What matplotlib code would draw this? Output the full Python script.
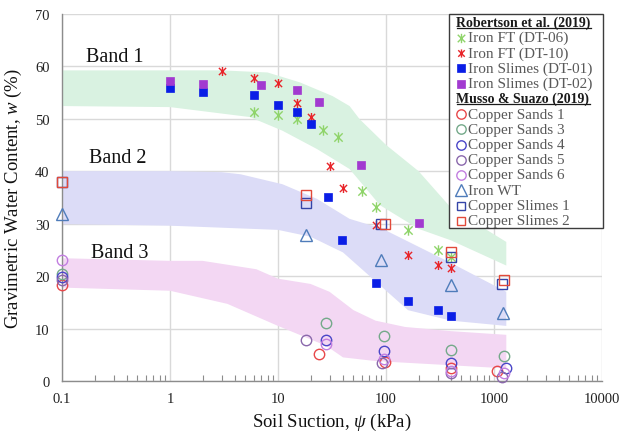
import matplotlib
matplotlib.use("Agg")
import matplotlib.pyplot as plt
from matplotlib.path import Path
from matplotlib.lines import Line2D
from matplotlib.patches import Rectangle
from matplotlib.ticker import LogLocator, FixedLocator, FixedFormatter, NullFormatter

plt.rcParams['font.family'] = ['Liberation Serif', 'DejaVu Serif']
plt.rcParams['mathtext.fontset'] = 'custom'
plt.rcParams['mathtext.rm'] = 'Liberation Serif'
plt.rcParams['mathtext.it'] = 'Liberation Serif:italic'

# ---------------- data ----------------
ft06_x = [6, 10, 15, 26, 36, 60, 80, 160, 300, 400]
ft06_y = [51.2, 50.7, 49.9, 47.9, 46.5, 36.3, 33.2, 28.8, 25.0, 23.7]

ft10_x = [3, 6, 10, 15, 20, 30, 40, 80, 160, 300, 400]
ft10_y = [59.0, 57.8, 56.8, 52.9, 50.4, 41.0, 36.8, 29.8, 24.1, 22.1, 21.5]

sl01_x = [1, 2, 6, 10, 15, 20, 29, 39, 80, 160, 300, 400]
sl01_y = [55.8, 55.0, 54.6, 52.6, 51.3, 49.0, 35.0, 26.9, 18.6, 15.2, 13.5, 12.4]

sl02_x = [1, 2, 7, 15, 24, 59, 200]
sl02_y = [57.1, 56.6, 56.4, 55.5, 53.1, 41.1, 30.1]

cs1_x = [0.1, 24, 98, 400, 1060]
cs1_y = [18.3, 5.1, 3.7, 2.5, 2.0]
cs3_x = [0.1, 28, 96, 400, 1230]
cs3_y = [20.4, 11.0, 8.5, 5.9, 4.8]
cs4_x = [0.1, 28, 96, 400, 1300]
cs4_y = [19.9, 7.9, 5.8, 3.5, 2.4]
cs5_x = [0.1, 18, 92, 400, 1180]
cs5_y = [19.3, 7.8, 3.4, 1.5, 0.7]
cs6_x = [0.1, 28, 96, 400, 1250]
cs6_y = [23.0, 7.0, 4.2, 1.9, 1.5]

wt_x = [0.1, 18, 90, 400, 1220]
wt_y = [31.8, 27.9, 23.1, 18.3, 12.9]

csl1_x = [0.1, 18, 89, 400, 1195]
csl1_y = [38.0, 34.0, 30.0, 23.6, 18.5]
csl2_x = [0.1, 18, 98, 400, 1245]
csl2_y = [38.0, 35.4, 30.0, 24.6, 19.3]

# bands (upper / lower boundaries)
b1_up_x = [0.1, 3, 8, 16, 32, 46, 57, 100, 200, 400, 1300]
b1_up_y = [59.2, 59.2, 58.8, 56.9, 54.3, 52.4, 49.9, 45.0, 40.0, 33.0, 26.5]
b1_lo_x = [0.1, 1, 5.5, 11, 23, 46, 88, 200, 400, 1300]
b1_lo_y = [52.4, 52.2, 50.3, 47.7, 44.2, 40.4, 33.5, 29.0, 26.8, 22.0]

b2_up_x = [0.1, 1, 3, 4.5, 11, 23, 46, 93, 400, 1300]
b2_up_y = [40.0, 40.0, 39.8, 39.4, 37.5, 34.7, 30.9, 29.0, 22.5, 17.0]
b2_lo_x = [0.1, 1, 10, 20, 40, 80, 160, 400, 1300]
b2_lo_y = [29.9, 29.6, 28.8, 27.5, 24.5, 19.0, 13.5, 11.5, 10.5]

b3_up_x = [0.1, 1, 2, 6.3, 10, 20, 30, 50, 80, 150, 400, 1300]
b3_up_y = [23.4, 22.9, 22.9, 21.3, 19.5, 18.5, 17.0, 13.5, 11.5, 10.3, 9.5, 8.8]
b3_lo_x = [0.1, 1, 3.4, 10, 28, 40, 80, 400, 1300]
b3_lo_y = [17.8, 17.2, 14.7, 10.5, 6.7, 4.5, 3.8, 3.0, 2.4]

band_labels = ["Band 1", "Band 2", "Band 3"]
band_label_x = [0.31, 0.33, 0.34]
band_label_y = [61.9, 42.5, 24.5]

x_ticks = [0.1, 1, 10, 100, 1000, 10000]
x_tick_labels = ["0.1", "1", "10", "100", "1000", "10000"]
y_ticks = [0, 10, 20, 30, 40, 50, 60, 70]

# ---------------- figure ----------------
fig = plt.figure(figsize=(6.25, 4.35), dpi=100)
ax = fig.add_axes([62/625, 53/435, 540/625, 367.3/435])
ax.set_xscale('log')
ax.set_xlim(0.1, 10000)
ax.set_ylim(0, 70)

c_b1 = '#d9f2e1'
c_b2 = '#dcdcf7'
c_b3 = '#f3d7f3'

ax.fill(b1_up_x + b1_lo_x[::-1], b1_up_y + b1_lo_y[::-1], color=c_b1, lw=0, zorder=1)
ax.fill(b2_up_x + b2_lo_x[::-1], b2_up_y + b2_lo_y[::-1], color=c_b2, lw=0, zorder=1)
ax.fill(b3_up_x + b3_lo_x[::-1], b3_up_y + b3_lo_y[::-1], color=c_b3, lw=0, zorder=1)

for t, bx, by in zip(band_labels, band_label_x, band_label_y):
    ax.text(bx, by, t, fontsize=14.5, ha='center', va='center', color='#111111', zorder=3)

star = Path([(-1, -1), (1, 1), (-1, 1), (1, -1), (0, -1.25), (0, 1.25)],
            [Path.MOVETO, Path.LINETO, Path.MOVETO, Path.LINETO, Path.MOVETO, Path.LINETO])

col = {
    'ft06': '#8fd46a', 'ft10': '#e8252a', 'sl01': '#0a1ee6', 'sl02': '#a23ad0',
    'cs1': '#e8484a', 'cs3': '#74a98a', 'cs4': '#4a46c8', 'cs5': '#8a68ac',
    'cs6': '#c27ee0', 'wt': '#4f7cba', 'csl1': '#3444a8', 'csl2': '#e24a3a',
}

series = [
    (ft06_x, ft06_y, 'ft06', star, 7.5, 'line', 'Iron FT (DT-06)'),
    (ft10_x, ft10_y, 'ft10', star, 6.5, 'line', 'Iron FT (DT-10)'),
    (sl01_x, sl01_y, 'sl01', 's', 6.2, 'fill', 'Iron Slimes (DT-01)'),
    (sl02_x, sl02_y, 'sl02', 's', 6.2, 'fill', 'Iron Slimes (DT-02)'),
    (cs1_x, cs1_y, 'cs1', 'o', 7.5, 'open', 'Copper Sands 1'),
    (cs3_x, cs3_y, 'cs3', 'o', 7.5, 'open', 'Copper Sands 3'),
    (cs4_x, cs4_y, 'cs4', 'o', 7.5, 'open', 'Copper Sands 4'),
    (cs5_x, cs5_y, 'cs5', 'o', 7.5, 'open', 'Copper Sands 5'),
    (cs6_x, cs6_y, 'cs6', 'o', 7.5, 'open', 'Copper Sands 6'),
    (wt_x, wt_y, 'wt', '^', 9, 'open', 'Iron WT'),
    (csl1_x, csl1_y, 'csl1', 's', 7, 'open', 'Copper Slimes 1'),
    (csl2_x, csl2_y, 'csl2', 's', 7, 'open', 'Copper Slimes 2'),
]

def style(c, kind):
    if kind == 'fill':
        return dict(markerfacecolor=c, markeredgecolor=c, markeredgewidth=0.5)
    return dict(markerfacecolor='none', markeredgecolor=c, markeredgewidth=1.0)

for xs, ys, key, m, ms, kind, lab in series:
    ax.plot(xs, ys, linestyle='none', marker=m, markersize=ms, zorder=4,
            clip_on=False, **style(col[key], kind))

# axes styling
ax.grid(True, which='major', color='#d9d9d9', lw=1.0, zorder=0)
ax.set_axisbelow(True)
for s in ['top', 'right']:
    ax.spines[s].set_visible(False)
for s in ['left', 'bottom']:
    ax.spines[s].set_color('#8c8c8c')
    ax.spines[s].set_linewidth(1.0)
ax.xaxis.set_major_locator(FixedLocator(x_ticks))
ax.xaxis.set_major_formatter(FixedFormatter(x_tick_labels))
ax.xaxis.set_minor_locator(LogLocator(base=10, subs=range(2, 10), numticks=20))
ax.xaxis.set_minor_formatter(NullFormatter())
ax.set_yticks(y_ticks)
ax.tick_params(axis='x', which='major', length=0, pad=8, labelsize=10.5, labelcolor='#222222')
ax.tick_params(axis='x', which='minor', direction='in', length=4, color='#8c8c8c', width=0.8)
ax.tick_params(axis='y', which='major', length=0, pad=9, labelsize=10.5, labelcolor='#222222')

ax.set_xlabel(r"Soil Suction, $\it{\psi}$ (kPa)", fontsize=13.5, labelpad=4, color='#111111')
ax.set_ylabel(r"Gravimetric Water Content, $\it{w}$ (%)", fontsize=13.5, labelpad=8, color='#111111')

# ---------------- legend (drawn manually) ----------------
def ax_x(px):
    return (px - 62) / 540.0

def ax_y(py):
    return (382 - py) / 367.3

ax.add_patch(Rectangle((ax_x(449), ax_y(229)), ax_x(603) - ax_x(449), ax_y(14.7) - ax_y(229),
                       transform=ax.transAxes, facecolor='white', edgecolor='#3c3c3c',
                       lw=1.0, zorder=10, clip_on=False))

rows_y = [23.5 + 15.25 * i for i in range(14)]
headers = {0: "Robertson et al. (2019)", 5: "Musso & Suazo (2019)"}
header_texts = []
si = 0
for i, py in enumerate(rows_y):
    if i in headers:
        t = ax.text(ax_x(456.5), ax_y(py), headers[i], transform=ax.transAxes, fontsize=10,
                    fontweight='bold', va='center', ha='left', color='#1a1a1a', zorder=11)
        header_texts.append(t)
    else:
        xs, ys, key, m, ms, kind, lab = series[si]
        si += 1
        ln = Line2D([ax_x(461)], [ax_y(py)], transform=ax.transAxes, linestyle='none', marker=m,
                    markersize=ms * 0.9, zorder=11, **style(col[key], kind))
        ln.set_clip_on(False)
        ax.add_line(ln)
        ax.text(ax_x(468), ax_y(py), lab, transform=ax.transAxes, fontsize=11,
                va='center', ha='left', color='#595959', zorder=11)

fig.canvas.draw()
r = fig.canvas.get_renderer()
inv = ax.transAxes.inverted()
for t in header_texts:
    bb = t.get_window_extent(renderer=r)
    (x0, y0), (x1, y1) = inv.transform([(bb.x0, bb.y0 + 1.5), (bb.x1, bb.y0 + 1.5)])
    ul = Line2D([x0, x1], [y0, y1], transform=ax.transAxes, color='#1a1a1a', lw=0.9, zorder=11)
    ul.set_clip_on(False)
    ax.add_line(ul)

fig.savefig("out.png", dpi=100)
